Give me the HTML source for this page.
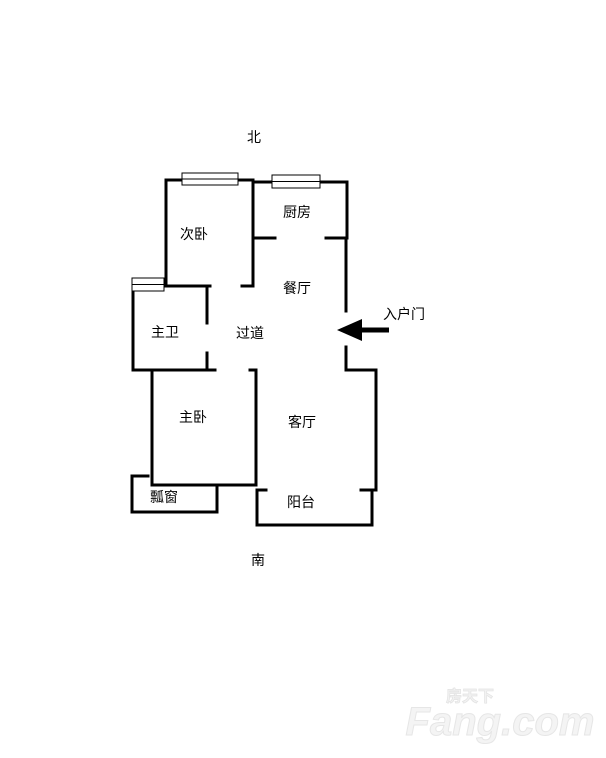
<!DOCTYPE html>
<html><head><meta charset="utf-8"><style>
html,body{margin:0;padding:0;background:#fff;}
svg{display:block}
text{font-family:"Liberation Sans","Noto Sans CJK SC",sans-serif;font-size:14px;fill:#000;text-anchor:middle;dominant-baseline:central}
</style></head><body>
<svg width="606" height="758" viewBox="0 0 606 758" xmlns="http://www.w3.org/2000/svg">
<g stroke="#000" stroke-width="3" fill="none" stroke-linecap="square">
<polyline points="166,286 166,180 253,180 253,286 242,286"/>
<polyline points="253,182 347,182 347,238 326,238"/>
<line x1="253" y1="238" x2="275" y2="238"/>
<line x1="346" y1="238" x2="346" y2="311"/>
<polyline points="346,347 346,370 376,370 376,490 361,490"/>
<polyline points="372,490 372,525 257,525 257,490 266,490"/>
<polyline points="133,286 133,370 215,370"/>
<line x1="133" y1="286" x2="210" y2="286"/>
<line x1="207" y1="286" x2="207" y2="323"/>
<line x1="207" y1="353" x2="207" y2="370"/>
<polyline points="152,370 152,485 256,485 256,370 250,370"/>
<polyline points="148,476 132,476 132,512 217,512 217,485"/>
</g>
<g stroke="#000" stroke-width="1" fill="#fff">
<rect x="182" y="173" width="56" height="12"/>
<line x1="182" y1="179" x2="238" y2="179"/>
<rect x="272" y="175" width="48" height="13"/>
<line x1="272" y1="181.5" x2="320" y2="181.5"/>
<rect x="132" y="278" width="32" height="13"/>
<line x1="132" y1="284.5" x2="164" y2="284.5"/>
</g>
<polygon points="337,330 362,319 362,341" fill="#000"/>
<rect x="360" y="327.5" width="29" height="5" fill="#000"/>
<text x="254" y="137">北</text>
<text x="194" y="234">次卧</text>
<text x="297" y="212">厨房</text>
<text x="297" y="288">餐厅</text>
<text x="404" y="314">入户门</text>
<text x="165" y="332">主卫</text>
<text x="250" y="333">过道</text>
<text x="193" y="417">主卧</text>
<text x="302" y="422">客厅</text>
<text x="164" y="497">瓢窗</text>
<text x="301" y="502">阳台</text>
<text x="258" y="560">南</text>
<text x="470" y="697" style="font-size:16px;font-weight:bold;fill:#f2f2f2;stroke:#e2e2e2;stroke-width:0.7">房天下</text>
<text x="500" y="722" style="font-size:40px;font-weight:bold;font-style:italic;fill:#f4f4f4;stroke:#e6e6e6;stroke-width:1">Fang.com</text>
</svg>
</body></html>
